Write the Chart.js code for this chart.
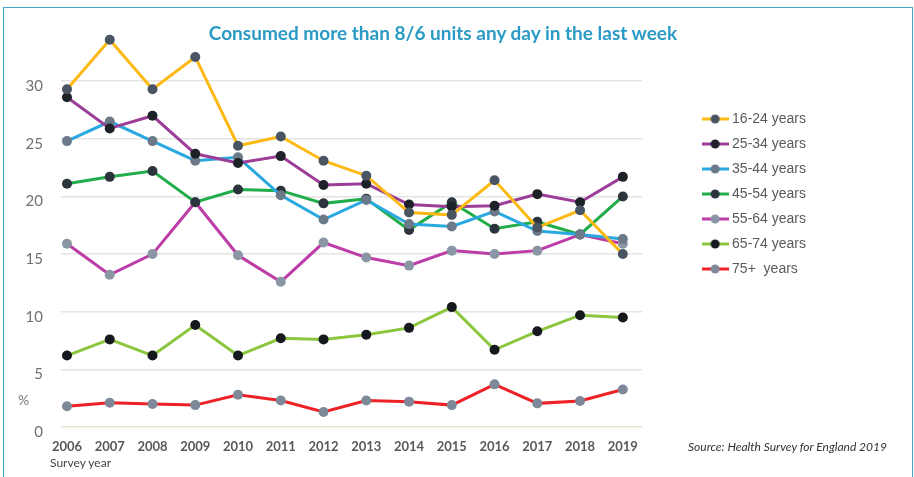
<!DOCTYPE html>
<html>
<head>
<meta charset="utf-8">
<script src="https://cdn.jsdelivr.net/npm/chart.js@4/dist/chart.umd.min.js"></script>
<style>
html,body{margin:0;padding:0;background:#fff;}
#wrap{position:relative;width:914px;height:477px;overflow:hidden;}
#frame{position:absolute;left:3px;top:7px;width:910px;height:480px;border:1px solid #4aa3c9;box-sizing:border-box;}
canvas{position:absolute;left:0;top:0;}
.txt{position:absolute;white-space:nowrap;}
#title{left:0;width:886px;top:21px;text-align:center;font:bold 19px Lato,sans-serif;color:#2b9ac4;}
#source{left:688px;top:439px;font:italic 12px Lato,sans-serif;color:#333;}
#xname{left:50px;top:455px;font:12px Lato,sans-serif;color:#444;}
#pct{left:18px;top:391px;font:14px Lato,sans-serif;color:#777;}
</style>
</head>
<body>
<div id="wrap">
<div id="frame"></div>
<canvas id="chart" width="914" height="477"></canvas>
<div class="txt" id="title">Consumed more than 8/6 units any day in the last week</div>
<div class="txt" id="pct">%</div>
<div class="txt" id="xname">Survey year</div>
<div class="txt" id="source">Source: Health Survey for England 2019</div>
</div>
<script>
const years = [2006,2007,2008,2009,2010,2011,2012,2013,2014,2015,2016,2017,2018,2019];
const yTicks = [0,5,10,15,20,25,30];

const age1624 = [29.3,33.6,29.3,32.1,24.4,25.2,23.1,21.8,18.6,18.4,21.4,17.3,18.8,15.0];
const age2534 = [28.6,25.9,27.0,23.7,22.9,23.5,21.0,21.1,19.3,19.1,19.2,20.2,19.5,21.7];
const age3544 = [24.8,26.5,24.8,23.1,23.4,20.1,18.0,19.7,17.6,17.4,18.7,17.0,16.7,16.3];
const age4554 = [21.1,21.7,22.2,19.5,20.6,20.5,19.4,19.8,17.1,19.5,17.2,17.8,16.7,20.0];
const age5564 = [15.9,13.2,15.0,19.5,14.9,12.6,16.0,14.7,14.0,15.3,15.0,15.3,16.7,15.9];
const age6574 = [6.2,7.6,6.2,8.85,6.2,7.7,7.6,8.0,8.6,10.4,6.7,8.3,9.7,9.5];
const age75 = [1.8,2.1,2.0,1.9,2.8,2.3,1.3,2.3,2.2,1.9,3.7,2.05,2.25,3.25];

const seriesNames = ["16-24 years","25-34 years","35-44 years","45-54 years","55-64 years","65-74 years","75+  years"];
const lineColors = ["#fdb913","#9c3d98","#2aa9e0","#20ad4a","#bd3ca7","#8cc63f","#ee2226"];
const dotColors = ["#4a5563","#1d2128","#6c7989","#2b333c","#8a96a4","#15191e","#7d8998"];
const seriesData = [age1624,age2534,age3544,age4554,age5564,age6574,age75];

// little line-with-dot sample for the legend
function legendMark(line,dot){
  const c=document.createElement('canvas');
  c.width=27;c.height=12;
  const g=c.getContext('2d');
  g.strokeStyle=line;g.lineWidth=3;
  g.beginPath();g.moveTo(0,6);g.lineTo(27,6);g.stroke();
  g.fillStyle=dot;
  g.beginPath();g.arc(13.5,6,4.5,0,Math.PI*2);g.fill();
  return c;
}

const datasets = seriesData.map((d,i)=>({
  label:seriesNames[i],
  data:d,
  borderColor:lineColors[i],
  backgroundColor:dotColors[i],
  borderWidth:3,
  pointRadius:5,
  pointHoverRadius:5,
  pointBorderWidth:0,
  pointBackgroundColor:dotColors[i],
  tension:0,
  mark:legendMark(lineColors[i],dotColors[i])
}));

new Chart(document.getElementById("chart"),{
  type:'line',
  data:{labels:years,datasets:datasets},
  options:{
    responsive:false,
    animation:false,
    layout:{padding:{top:29.3,left:0,right:98,bottom:0}},
    plugins:{
      tooltip:{enabled:false},
      legend:{
        position:'right',
        align:'start',
        title:{display:true,text:'',padding:{top:57.3,bottom:0}},
        labels:{
          usePointStyle:true,
          pointStyleWidth:20,
          padding:11,
          color:'#5a5a5a',
          font:{family:'"Liberation Sans", Arial, sans-serif',size:14},
          generateLabels(chart){
            return chart.data.datasets.map((ds,i)=>({
              text:ds.label,
              pointStyle:ds.mark,
              fillStyle:ds.backgroundColor,
              strokeStyle:ds.borderColor,
              lineWidth:0,
              hidden:false,
              datasetIndex:i,
              fontColor:'#5a5a5a'
            }));
          }
        }
      }
    },
    scales:{
      x:{
        type:'linear',
        min:2005.86,
        max:2019.45,
        grid:{display:false},
        border:{display:false},
        afterBuildTicks(s){ s.ticks = years.map(v=>({value:v})); },
        afterFit(s){ s.height = 50; },
        ticks:{
          padding:4,
          color:'#585858',
          font:{family:'Lato, sans-serif',size:13,weight:'bold'},
          callback:v=>String(v),
          maxRotation:0,
          autoSkip:false
        }
      },
      y:{
        min:0,
        max:34.5,
        afterBuildTicks(s){ s.ticks = yTicks.map(v=>({value:v})); },
        afterFit(s){ s.width = 61; },
        border:{display:false},
        grid:{
          drawTicks:false,
          lineWidth:1.5,
          color:c=>c.tick && c.tick.value===0 ? '#e9e3cc' : '#e4e4e4'
        },
        ticks:{
          padding:18,
          labelOffset:5,
          color:'#707070',
          font:{family:'Lato, sans-serif',size:15}
        }
      },
      yR:{
        type:'linear',
        position:'right',
        display:true,
        grid:{display:false},
        border:{display:false},
        ticks:{display:false},
        afterFit(s){ s.width = 52; }
      }
    }
  }
});
</script>
</body>
</html>
